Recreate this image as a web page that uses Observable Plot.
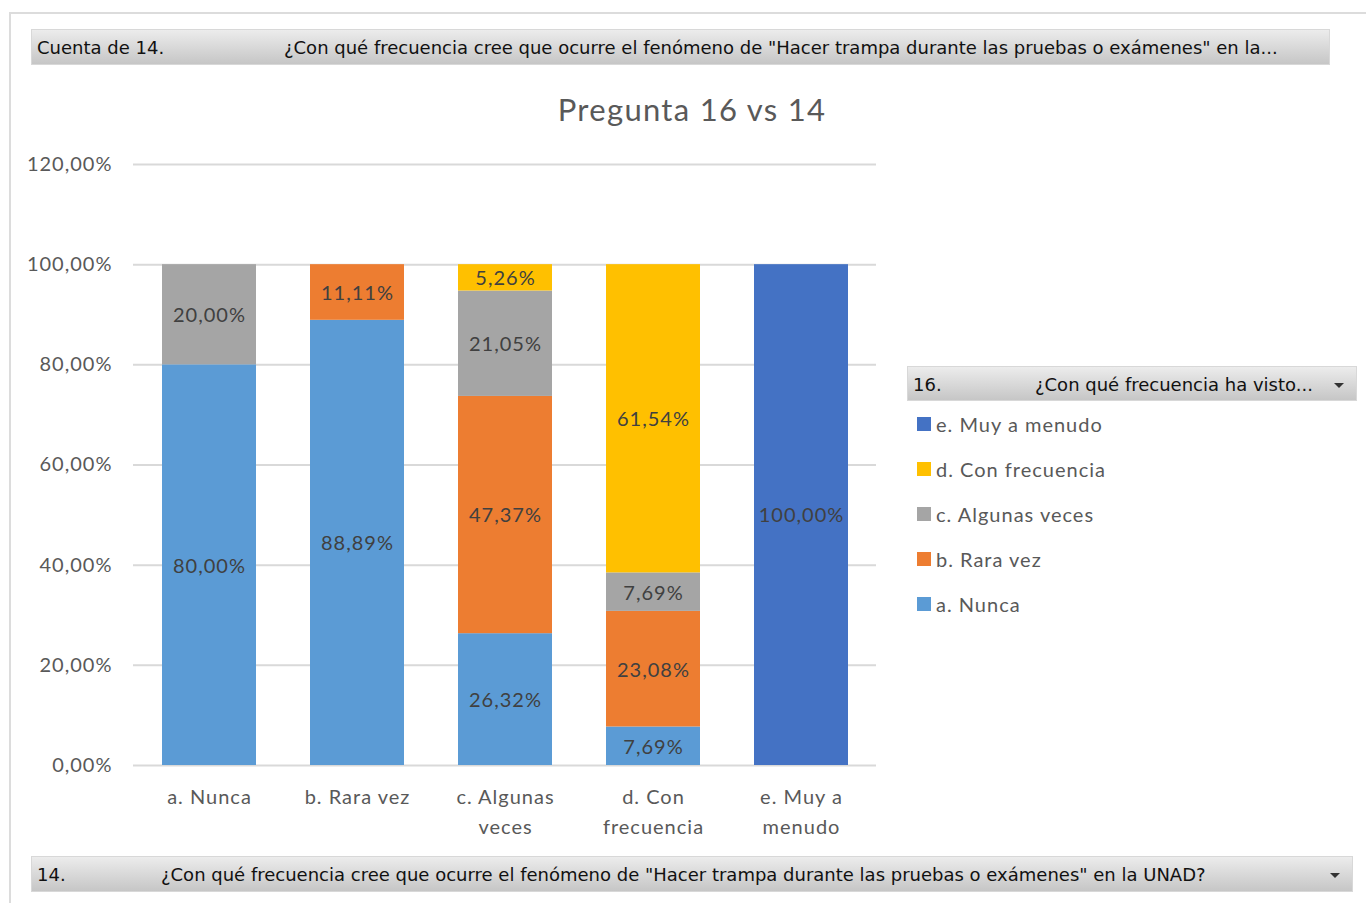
<!DOCTYPE html>
<html><head><meta charset="utf-8">
<script src="https://cdn.jsdelivr.net/npm/d3@7"></script>
<script src="https://cdn.jsdelivr.net/npm/@observablehq/plot@0.6"></script>
<style>
body{margin:0;background:#fff;width:1366px;height:903px;overflow:hidden;position:relative;font-family:Lato,sans-serif}
.frame{position:absolute;left:9px;top:12px;width:1400px;height:1000px;border-left:2px solid #dcdcdc;border-top:2px solid #dcdcdc}
.fbar{position:absolute;background:linear-gradient(#ececec,#c6c6c6);border:1px solid #d8d8d8;box-sizing:border-box;font-family:"DejaVu Sans",sans-serif;font-size:18px;color:#111;white-space:nowrap}
.fbar span{position:absolute;top:50%;transform:translateY(-50%)}
.arrow{position:absolute;width:0;height:0;border-left:5px solid transparent;border-right:5px solid transparent;border-top:5px solid #333}
#title{position:absolute;left:0;width:1384px;top:90px;text-align:center;font-size:31px;letter-spacing:1.3px;color:#595959}
#chart{position:absolute;left:0;top:140px}
.leg{position:absolute;left:917px;font-size:20px;letter-spacing:1px;color:#595959;white-space:nowrap}
.leg i{position:absolute;left:0;top:50%;width:14px;height:14px;transform:translateY(-50%)}
.leg span{position:absolute;left:19px;top:50%;transform:translateY(-50%)}
</style></head>
<body>
<div class="frame"></div>
<div class="fbar" style="left:31px;top:29px;width:1299px;height:36px">
  <span style="left:5px">Cuenta de 14.</span>
  <span style="left:252px">¿Con qué frecuencia cree que ocurre el fenómeno de "Hacer trampa durante las pruebas o exámenes" en la...</span>
</div>
<div id="title">Pregunta 16 vs 14</div>
<div id="chart"></div>
<div class="fbar" style="left:907px;top:366px;width:450px;height:35px">
  <span style="left:5px">16.</span>
  <span style="left:127px">¿Con qué frecuencia ha visto...</span>
  <div class="arrow" style="left:426px;top:16px"></div>
</div>
<div id="legend"></div>
<div class="fbar" style="left:31px;top:856px;width:1322px;height:36px">
  <span style="left:5px">14.</span>
  <span style="left:129px">¿Con qué frecuencia cree que ocurre el fenómeno de "Hacer trampa durante las pruebas o exámenes" en la UNAD?</span>
  <div class="arrow" style="left:1298px;top:16px"></div>
</div>
<script>
const categories = ["a. Nunca","b. Rara vez","c. Algunas veces","d. Con frecuencia","e. Muy a menudo"];
const categoryLabels = ["a. Nunca","b. Rara vez","c. Algunas\nveces","d. Con\nfrecuencia","e. Muy a\nmenudo"];
const series = ["a. Nunca","b. Rara vez","c. Algunas veces","d. Con frecuencia","e. Muy a menudo"];
const seriesColors = ["#5B9BD5","#ED7D31","#A5A5A5","#FFC000","#4472C4"];
const valuesNunca = [80.00, 88.89, 26.32, 7.69, 0];
const valuesRaraVez = [0, 11.11, 47.37, 23.08, 0];
const valuesAlgunasVeces = [20.00, 0, 21.05, 7.69, 0];
const valuesConFrecuencia = [0, 0, 5.26, 61.54, 0];
const valuesMuyAMenudo = [0, 0, 0, 0, 100.00];
const yTicks = [0, 20, 40, 60, 80, 100, 120];

const seriesValues = [valuesNunca, valuesRaraVez, valuesAlgunasVeces, valuesConFrecuencia, valuesMuyAMenudo];
const rows = [];
series.forEach((s, si) => categories.forEach((c, ci) => {
  const v = seriesValues[si][ci];
  if (v > 0) rows.push({cat: c, series: s, value: v});
}));
const fmt = d => d.toFixed(2).replace(".", ",") + "%";
const labelOf = Object.fromEntries(categories.map((c, i) => [c, categoryLabels[i]]));

const plot = Plot.plot({
  width: 900, height: 710,
  marginTop: 24, marginBottom: 85, marginLeft: 133, marginRight: 24,
  style: {fontFamily: "Lato, sans-serif", fontSize: "20px", color: "#595959", background: "transparent", letterSpacing: "1px"},
  x: {domain: categories, paddingInner: 0.367, paddingOuter: 0.1835, label: null},
  y: {domain: [0, 120], label: null},
  color: {domain: series, range: seriesColors},
  marks: [
    Plot.ruleY(yTicks, {stroke: "#d9d9d9", strokeWidth: 2}),
    Plot.barY(rows, Plot.stackY({x: "cat", y: "value", fill: "series", order: series})),
    Plot.text(rows, Plot.stackY({x: "cat", y: "value", z: "series", order: series, text: d => fmt(d.value), fill: "#404040", fontSize: 20, dy: 1})),
    Plot.axisY({ticks: yTicks, tickFormat: fmt, tickSize: 0, tickPadding: 21, fontSize: 20}),
    Plot.axisX({tickSize: 0, tickPadding: 17, tickFormat: d => labelOf[d], fontSize: 20, lineHeight: 1.5})
  ]
});
document.getElementById("chart").appendChild(plot);

const legendOrder = series.slice().reverse();
const legend = document.getElementById("legend");
legendOrder.forEach((s, i) => {
  const el = document.createElement("div");
  el.className = "leg";
  el.style.top = (424 + i * 45) + "px";
  el.innerHTML = `<i style="background:${seriesColors[series.indexOf(s)]}"></i><span>${s}</span>`;
  legend.appendChild(el);
});
</script>
</body></html>
